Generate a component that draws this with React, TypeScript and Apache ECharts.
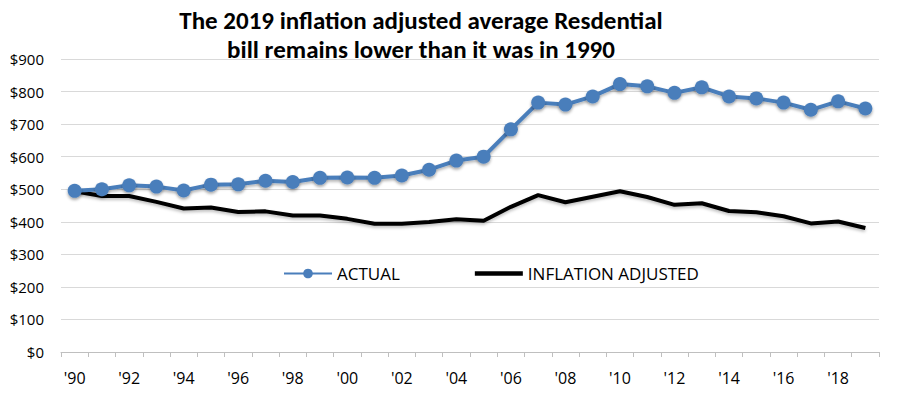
import React, { useEffect, useRef } from "react";
import * as echarts from "echarts";

const years = [
  "1990","1991","1992","1993","1994","1995","1996","1997","1998","1999",
  "2000","2001","2002","2003","2004","2005","2006","2007","2008","2009",
  "2010","2011","2012","2013","2014","2015","2016","2017","2018","2019",
];
const actual = [
  495, 500, 512, 508, 496, 514, 515, 526, 522, 535,
  536, 535, 542, 560, 588, 600, 684, 766, 760, 785,
  823, 816, 796, 813, 785, 779, 766, 744, 770, 748,
];
const inflationAdjusted = [
  494, 479, 479, 461, 441, 444, 430, 432, 419, 419,
  409, 394, 394, 399, 408, 403, 446, 482, 460, 477,
  494, 476, 452, 457, 433, 429, 417, 395, 401, 381,
];
const titleLines = [
  "The 2019 inflation adjusted average Resdential",
  "bill remains lower than it was in 1990",
];

const TITLE_FONT = "Carlito, Calibri, Lato, sans-serif";
const FONT = "'Open Sans', 'Segoe UI', sans-serif";

export default function App() {
  const ref = useRef<HTMLDivElement>(null);
  useEffect(() => {
    if (!ref.current) return;
    const chart = echarts.init(ref.current, null, { renderer: "svg" });
    chart.setOption({
      animation: false,
      backgroundColor: "#ffffff",
      textStyle: { fontFamily: FONT },
      title: {
        text: titleLines.join("\n"),
        left: 416,
        top: 1,
        textAlign: "center",
        textStyle: {
          fontFamily: TITLE_FONT,
          fontWeight: "bold",
          fontSize: 25,
          lineHeight: 29,
          color: "#000",
        },
      },
      legend: {
        left: 278,
        top: 260,
        itemWidth: 48,
        itemHeight: 12,
        itemGap: 75,
        textStyle: { fontFamily: FONT, fontSize: 17, color: "#000" },
        data: [
          { name: "ACTUAL" },
          { name: "INFLATION ADJUSTED", icon: "path://M0,0 H48 V4.5 H0 Z" },
        ],
      },
      grid: { left: 61, right: 21, top: 59, bottom: 45, containLabel: false },
      xAxis: {
        type: "category",
        data: years,
        boundaryGap: true,
        axisLine: { lineStyle: { color: "#bfbfbf", width: 1 } },
        axisTick: { show: true, interval: 0, length: 5, lineStyle: { color: "#bfbfbf" } },
        axisLabel: {
          interval: 1,
          margin: 18,
          fontSize: 16,
          color: "#000",
          fontFamily: FONT,
          formatter: (v: string) => "'" + v.slice(2),
        },
        splitLine: { show: false },
      },
      yAxis: {
        type: "value",
        min: 0,
        max: 900,
        interval: 100,
        axisLine: { show: false },
        axisTick: { show: false },
        axisLabel: {
          fontSize: 15,
          color: "#000",
          margin: 17,
          fontFamily: FONT,
          formatter: (v: number) => "$" + v,
        },
        splitLine: { lineStyle: { color: "#d9d9d9", width: 1 } },
      },
      series: [
        {
          name: "ACTUAL",
          type: "line",
          data: actual,
          symbol: "circle",
          symbolSize: 14,
          lineStyle: {
            color: "#4a7ebb",
            width: 4,
            shadowColor: "rgba(0,0,0,0.3)",
            shadowBlur: 3,
            shadowOffsetY: 2,
          },
          itemStyle: {
            color: "#4a7ebb",
            shadowColor: "rgba(0,0,0,0.35)",
            shadowBlur: 3,
            shadowOffsetY: 2,
          },
          z: 3,
        },
        {
          name: "INFLATION ADJUSTED",
          type: "line",
          data: inflationAdjusted,
          symbol: "none",
          showSymbol: false,
          lineStyle: {
            color: "#000000",
            width: 4,
            shadowColor: "rgba(0,0,0,0.25)",
            shadowBlur: 3,
            shadowOffsetY: 2,
          },
          itemStyle: { color: "#000000" },
          z: 2,
        },
      ],
    });
    return () => chart.dispose();
  }, []);
  return <div ref={ref} style={{ width: 900, height: 397, position: "fixed", left: 0, top: 0 }} />;
}
